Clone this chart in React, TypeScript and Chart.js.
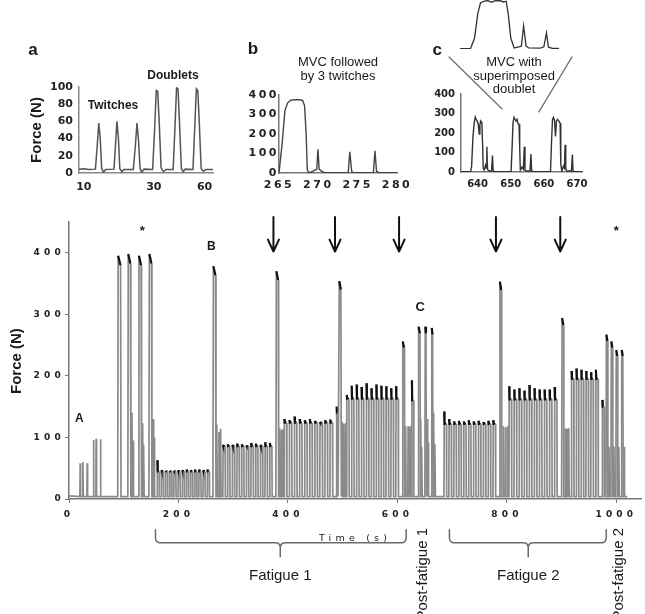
import { useEffect, useRef } from 'react';
import { Chart, registerables } from 'chart.js';

Chart.register(...registerables);

const SANS = '"Liberation Sans", Arial, sans-serif';
const DEJAVU = '"DejaVu Sans", sans-serif';

// ---------------- main recording (time in s, force in N) ----------------
const mainXTicks = [0, 200, 400, 600, 800, 1000];
const mainYTicks = [0, 100, 200, 300, 400];
const BASELINE_N = 4;

// single twitches and doublets
const twitchTimes = [20.4, 25.3, 33.2, 44.7, 49.6, 57.5, 115, 117.5, 134.5, 136.5, 153.5, 155.5, 270, 274, 277, 385, 388, 391, 499, 502, 505, 615, 619.5, 623, 642.8, 644.5, 654.1, 656.1, 666.4, 668.6, 794, 797.5, 801, 907, 910, 913, 986.5, 995.5, 1004.5, 1014.5];
const twitchForces = [58, 60, 58, 96, 98, 97, 140, 95, 123, 88, 130, 100, 121, 109, 114, 115, 112, 114, 125, 122, 124, 118, 118, 118, 130, 85, 130, 92, 140, 89, 118, 116, 118, 115, 114, 115, 85, 85, 85, 85];

// maximal voluntary contractions
const mvcOnsets = [89, 107.5, 127, 146, 263, 378, 493, 609, 637.9, 650.1, 662, 786.5, 900, 981, 990, 999, 1009];
const mvcOffsets = [95, 113, 132.5, 151.5, 268.5, 383, 497.5, 613, 642, 652.9, 665, 790.5, 904, 984.5, 993.5, 1002.5, 1012.5];
const mvcPeaks = [395, 398, 395, 398, 378, 370, 354, 256, 280, 280, 278, 353, 294, 267, 256, 242, 242];

// isolated submaximal contractions
const barOnsets = [488.5, 626, 974];
const barOffsets = [491.5, 630, 978];
const barPeaks = [150, 193, 161];
const barHolds = [140, 160, 150];

// intermittent fatiguing blocks
const blockStarts = [161, 281, 393, 507, 685, 803.7, 917.7];
const blockEnds = [260, 375, 486, 606, 783.5, 896, 971];
const blockHolds = [45, 86, 124, 163, 122, 162, 195];
const block1Peaks = [63, 47, 46, 46, 46, 47, 47, 48, 47, 48, 48, 47, 48];
const block2Peaks = [88, 89, 88, 90, 89, 87, 91, 90, 88, 92, 91];
const block3Peaks = [130, 128, 134, 130, 128, 130, 127, 125, 128, 129];
const block4Peaks = [169, 184, 186, 182, 188, 180, 186, 184, 183, 180, 183];
const block5Peaks = [142, 130, 126, 127, 126, 128, 126, 127, 125, 127, 128];
const block6Peaks = [183, 178, 180, 176, 185, 180, 178, 178, 178, 182];
const block7Peaks = [208, 212, 210, 208, 206, 210];
const blockPeaks = [block1Peaks, block2Peaks, block3Peaks, block4Peaks, block5Peaks, block6Peaks, block7Peaks];

// ---------------- inset a ----------------
const aTime = [8, 10, 12, 14.8, 15.5, 16.2, 16.8, 17.4, 18.2, 19, 22.5, 23.1, 23.7, 24.3, 24.9, 25.8, 26.6, 30.5, 31.3, 32.0, 32.6, 33.3, 34, 35, 38.5, 39.3, 40.0, 40.6, 41.2, 42, 43, 44, 47, 47.7, 48.4, 49.0, 49.6, 50.4, 51.2, 52, 55.2, 55.9, 56.6, 57.2, 57.8, 58.6, 59.5, 60.5, 63.5];
const aForce = [4.5, 5, 4, 4.5, 30, 58, 40, 5, 1, 4, 4.5, 32, 60, 42, 5, 1.5, 4, 4, 30, 58, 40, 5, 1, 4.5, 4, 50, 96, 95, 60, 6, 1.5, 4, 4, 50, 99, 98, 60, 5, 1.5, 4.5, 4, 50, 98, 96, 60, 5, 2, 4, 4];
const aTickValues = [10, 39, 60];
const aTickLabels = ['10', '30', '60'];
const aYTicks = [0, 20, 40, 60, 80, 100];

// ---------------- inset b ----------------
const bTime = [265, 265.4, 265.75, 266.1, 266.5, 267.0, 267.6, 268.0, 268.25, 268.45, 268.6, 268.8, 269.3, 269.6, 269.8, 269.95, 270.1, 270.4, 270.8, 273.8, 274.0, 274.25, 274.5, 277.0, 277.2, 277.4, 277.7, 280];
const bForce = [0, 150, 320, 360, 373, 376, 376, 372, 345, 200, 15, 2, 8, 16, 18, 121, 20, 10, 2, 2, 109, 5, 2, 2, 114, 8, 3, 2];
const bXTicks = [265, 270, 275, 280];
const bcYTicks = [0, 100, 200, 300, 400];

// ---------------- inset c ----------------
const cTime = [635, 637.9, 638.2, 638.6, 639.0, 639.3, 639.6, 639.9, 640.2, 640.5, 640.7, 640.9, 641.1, 641.3, 641.5, 641.7, 642.0, 642.4, 642.6, 642.8, 643.0, 643.4, 644.2, 644.5, 644.7, 645.2, 650.1, 650.4, 650.7, 651.0, 651.3, 651.6, 651.9, 652.2, 652.5, 652.7, 652.9, 653.4, 653.8, 654.1, 654.3, 654.8, 655.8, 656.1, 656.3, 657, 662.0, 662.3, 662.6, 662.9, 663.2, 663.5, 663.8, 664.1, 664.5, 664.9, 665.1, 665.4, 665.9, 666.2, 666.4, 666.6, 667, 668.3, 668.6, 668.8, 669.3, 671.5];
const cForce = [2, 2, 30, 180, 255, 282, 268, 260, 245, 195, 240, 262, 258, 248, 150, 20, 10, 35, 20, 130, 15, 5, 5, 85, 5, 2, 2, 120, 255, 280, 270, 262, 270, 248, 245, 130, 10, 25, 15, 130, 10, 5, 5, 92, 5, 2, 2, 150, 270, 280, 265, 182, 262, 270, 262, 250, 40, 5, 30, 20, 140, 15, 5, 5, 89, 5, 2, 2];
const cXTicks = [640, 650, 660, 670];

// magnified MVC with superimposed doublet (above inset c)
const zoomTime = [637.9, 638.7, 639.0, 639.25, 639.45, 639.7, 640.0, 640.3, 640.5, 640.9, 641.2, 641.4, 641.55, 641.75, 642.0, 642.35, 642.55, 642.72, 642.9, 643.1, 644.0, 644.25, 644.45, 644.6, 644.9, 645.4];
const zoomForce = [2, 3, 60, 200, 258, 268, 272, 262, 270, 272, 264, 268, 200, 60, 6, 12, 16, 130, 18, 6, 5, 12, 90, 10, 4, 4];

// ---------------- helpers ----------------
type P = { x: number; y: number };
const zip = (xs: number[], ys: number[]): P[] => xs.map((x, i) => ({ x, y: ys[i] }));

function buildMainTrace(): P[] {
  const ev: { t: number; pts: [number, number][] }[] = [];
  const B = BASELINE_N;
  twitchTimes.forEach((t, i) => ev.push({ t: t - 0.5, pts: [[t - 0.5, B], [t, twitchForces[i]], [t + 0.8, B]] }));
  mvcOnsets.forEach((a, i) => {
    const b = mvcOffsets[i], f = mvcPeaks[i];
    ev.push({ t: a, pts: [[a, B], [a + 0.8, f], [b - 0.8, f * 0.96], [b, B]] });
  });
  barOnsets.forEach((a, i) => {
    const b = barOffsets[i];
    ev.push({ t: a, pts: [[a, B], [a + 0.5, barPeaks[i]], [a + 1, barHolds[i]], [b - 0.5, barHolds[i]], [b, B]] });
  });
  blockStarts.forEach((s0, k) => {
    const peaks = blockPeaks[k];
    const per = (blockEnds[k] - s0) / peaks.length;
    const on = per * 0.55;
    peaks.forEach((f, i) => {
      const s = s0 + i * per;
      const h = Math.min(blockHolds[k], f);
      ev.push({ t: s, pts: [[s, B], [s + 0.5, f], [s + 1.1, h], [s + on - 0.5, h], [s + on, B]] });
    });
  });
  ev.sort((p, q) => p.t - q.t);
  const out: P[] = [{ x: 0, y: 5 }];
  ev.forEach((e) => e.pts.forEach(([x, y]) => out.push({ x, y })));
  out.push({ x: 1020, y: B });
  return out;
}

type Txt = { x: number; y: number; text: string; font: string; align?: CanvasTextAlign; rot?: number };
type Seg = { x0: number; y0: number; x1: number; y1: number };
type Brace = { x0: number; x1: number; xm: number; yTop: number; yMid: number; yTip: number };
type Annot = { spacing?: string; texts?: Txt[]; lines?: Seg[]; arrowXs?: number[]; arrowTop?: number; arrowBot?: number; braces?: Brace[] };

function annotPlugin(a: Annot) {
  return {
    id: 'annot',
    beforeDraw(chart: any) {
      chart.ctx.letterSpacing = a.spacing || '0px';
    },
    afterDraw(chart: any) {
      const ctx = chart.ctx as CanvasRenderingContext2D;
      const xs = chart.scales.x, ys = chart.scales.y;
      const px = (v: number) => xs.getPixelForValue(v);
      const py = (v: number) => ys.getPixelForValue(v);
      ctx.save();
      (ctx as any).letterSpacing = '0px';
      ctx.lineCap = 'round';
      ctx.lineJoin = 'round';
      for (const l of a.lines || []) {
        ctx.strokeStyle = '#707070';
        ctx.lineWidth = 1.3;
        ctx.beginPath();
        ctx.moveTo(px(l.x0), py(l.y0));
        ctx.lineTo(px(l.x1), py(l.y1));
        ctx.stroke();
      }
      for (const x of a.arrowXs || []) {
        const X = px(x), T = py(a.arrowTop as number), Bt = py(a.arrowBot as number);
        ctx.strokeStyle = '#111';
        ctx.lineWidth = 2;
        ctx.beginPath();
        ctx.moveTo(X, T);
        ctx.lineTo(X, Bt);
        ctx.moveTo(X - 5.5, Bt - 12);
        ctx.lineTo(X, Bt);
        ctx.lineTo(X + 5.5, Bt - 12);
        ctx.stroke();
      }
      for (const b of a.braces || []) {
        const X0 = px(b.x0), X1 = px(b.x1), XM = px(b.xm), YT = py(b.yTop), YM = py(b.yMid), YP = py(b.yTip), r = 5;
        ctx.strokeStyle = '#6a6a6a';
        ctx.lineWidth = 1.5;
        ctx.beginPath();
        ctx.moveTo(X0, YT);
        ctx.lineTo(X0, YM - r);
        ctx.quadraticCurveTo(X0, YM, X0 + r, YM);
        ctx.lineTo(XM - r, YM);
        ctx.quadraticCurveTo(XM, YM, XM, YM + r);
        ctx.lineTo(XM, YP);
        ctx.moveTo(X1, YT);
        ctx.lineTo(X1, YM - r);
        ctx.quadraticCurveTo(X1, YM, X1 - r, YM);
        ctx.lineTo(XM + r, YM);
        ctx.quadraticCurveTo(XM, YM, XM, YM + r);
        ctx.stroke();
      }
      for (const t of a.texts || []) {
        ctx.save();
        ctx.translate(px(t.x), py(t.y));
        if (t.rot) ctx.rotate(t.rot);
        ctx.font = t.font;
        ctx.fillStyle = '#1a1a1a';
        ctx.textAlign = t.align || 'center';
        ctx.textBaseline = 'middle';
        ctx.fillText(t.text, 0, 0);
        ctx.restore();
      }
      ctx.restore();
    },
  };
}

type Opts = {
  pts: P[]; color: string; lineWidth: number; segment?: any;
  xMin: number; xMax: number; yMin: number; yMax: number;
  xTicks: number[]; yTicks: number[]; xLabel?: (v: number, i: number) => string;
  pad: { left: number; right: number; top: number; bottom: number };
  yWidth: number; xHeight: number; showAxes: boolean;
  font?: any; xPad?: number; yPad?: number; marks?: boolean; axisColor?: string; axisWidth?: number;
  xTitle?: any; yTitle?: any; annot: Annot;
};

function makeChart(canvas: HTMLCanvasElement, o: Opts) {
  const axisColor = o.axisColor || '#888';
  return new Chart(canvas as any, {
    type: 'line',
    data: {
      datasets: [{
        data: o.pts as any,
        borderColor: o.color,
        borderWidth: o.lineWidth,
        pointRadius: 0,
        tension: 0,
        fill: false,
        segment: o.segment,
      }],
    },
    options: {
      animation: false,
      responsive: false,
      devicePixelRatio: 1,
      events: [],
      layout: { padding: o.pad },
      plugins: { legend: { display: false }, tooltip: { enabled: false }, title: { display: false } },
      scales: {
        x: {
          type: 'linear', display: o.showAxes, min: o.xMin, max: o.xMax,
          afterBuildTicks: (s: any) => { s.ticks = o.xTicks.map((v) => ({ value: v })); },
          afterFit: (s: any) => { s.height = o.xHeight; },
          ticks: {
            font: o.font, color: '#222', padding: o.xPad || 0, maxRotation: 0, minRotation: 0, autoSkip: false,
            callback: (v: any, i: number) => (o.xLabel ? o.xLabel(v, i) : String(v)),
          },
          grid: { display: !!o.marks, drawOnChartArea: false, drawTicks: !!o.marks, tickLength: 4, color: axisColor, lineWidth: 1 },
          border: { display: true, color: axisColor, width: o.axisWidth || 1.4 },
          title: o.xTitle || { display: false },
        },
        y: {
          type: 'linear', display: o.showAxes, min: o.yMin, max: o.yMax,
          afterBuildTicks: (s: any) => { s.ticks = o.yTicks.map((v) => ({ value: v })); },
          afterFit: (s: any) => { s.width = o.yWidth; },
          ticks: { font: o.font, color: '#222', padding: o.yPad || 0, autoSkip: false, callback: (v: any) => String(v) },
          grid: { display: !!o.marks, drawOnChartArea: false, drawTicks: !!o.marks, tickLength: 4, color: axisColor, lineWidth: 1 },
          border: { display: true, color: axisColor, width: o.axisWidth || 1.4 },
          title: o.yTitle || { display: false },
        },
      },
    } as any,
    plugins: [annotPlugin(o.annot) as any],
  });
}

const isCap = (c: any) => {
  const a = c.p0.parsed.y, b = c.p1.parsed.y;
  return a > 20 && b > 20 && Math.abs(a - b) < 0.3 * Math.max(a, b);
};
const capColor = (c: any) => (isCap(c) ? '#111' : '#8a8a8a');
const capWidth = (c: any) => (isCap(c) ? 2.2 : 1.7);

export default function App() {
  const mainRef = useRef<HTMLCanvasElement>(null);
  const aRef = useRef<HTMLCanvasElement>(null);
  const bRef = useRef<HTMLCanvasElement>(null);
  const cRef = useRef<HTMLCanvasElement>(null);
  const zRef = useRef<HTMLCanvasElement>(null);

  useEffect(() => {
    const charts: Chart[] = [];
    const tickBold = (size: number) => ({ family: DEJAVU, size, weight: 'bold' });

    charts.push(makeChart(mainRef.current as HTMLCanvasElement, {
      pts: buildMainTrace(), color: '#8a8a8a', lineWidth: 1.7,
      segment: { borderColor: capColor, borderWidth: capWidth },
      xMin: 0, xMax: 1045, yMin: 0, yMax: 450, xTicks: mainXTicks, yTicks: mainYTicks,
      pad: { left: 0, right: 4, top: 22, bottom: 0 }, yWidth: 69, xHeight: 115, showAxes: true,
      font: tickBold(9), xPad: 6, yPad: 0, marks: true, axisColor: '#777', axisWidth: 1.5,
      xTitle: { display: true, text: 'Time (s)', font: { family: DEJAVU, size: 9.5 }, color: '#222', padding: { top: 0, bottom: 70 } },
      annot: {
        spacing: '4.2px',
        arrowXs: [373.5, 486, 603, 780, 897.5], arrowTop: 458, arrowBot: 402,
        braces: [
          { x0: 158, x1: 616, xm: 386, yTop: -50, yMid: -71, yTip: -94 },
          { x0: 695, x1: 981.5, xm: 839, yTop: -50, yMid: -71, yTip: -94 },
        ],
        texts: [
          { x: -94.4, y: 224, text: 'Force (N)', font: `bold 15px ${SANS}`, rot: -Math.PI / 2 },
          { x: 19, y: 130, text: 'A', font: `bold 12px ${SANS}` },
          { x: 134, y: 434, text: '*', font: `bold 13px ${SANS}` },
          { x: 260, y: 410, text: 'B', font: `bold 12px ${SANS}` },
          { x: 641.6, y: 312, text: 'C', font: `bold 13px ${SANS}` },
          { x: 1000, y: 434, text: '*', font: `bold 13px ${SANS}` },
          { x: 386, y: -125, text: 'Fatigue 1', font: `15px ${SANS}` },
          { x: 839, y: -125, text: 'Fatigue 2', font: `15px ${SANS}` },
          { x: 647, y: -47, text: 'Post-fatigue 1', font: `15px ${SANS}`, align: 'right', rot: -Math.PI / 2 },
          { x: 1005, y: -47, text: 'Post-fatigue 2', font: `15px ${SANS}`, align: 'right', rot: -Math.PI / 2 },
        ],
      },
    }));

    charts.push(makeChart(aRef.current as HTMLCanvasElement, {
      pts: zip(aTime, aForce), color: '#555', lineWidth: 1.5,
      xMin: 8, xMax: 63.5, yMin: 0, yMax: 100, xTicks: aTickValues, yTicks: aYTicks,
      xLabel: (_v, i) => aTickLabels[i],
      pad: { left: 0, right: 27, top: 67, bottom: 0 }, yWidth: 79, xHeight: 37, showAxes: true,
      font: tickBold(11), xPad: 8, yPad: 6, marks: false, axisColor: '#888', axisWidth: 1.5,
      yTitle: { display: true, text: 'Force (N)', font: { family: SANS, size: 15, weight: 'bold' }, color: '#1a1a1a', padding: { top: 28, bottom: 0 } },
      annot: {
        texts: [
          { x: -11.1, y: 143, text: 'a', font: `bold 17px ${SANS}` },
          { x: 22.1, y: 78, text: 'Twitches', font: `bold 12px ${SANS}` },
          { x: 46.9, y: 112.8, text: 'Doublets', font: `bold 12px ${SANS}` },
        ],
      },
    }));

    charts.push(makeChart(bRef.current as HTMLCanvasElement, {
      pts: zip(bTime, bForce), color: '#444', lineWidth: 1.4,
      xMin: 265, xMax: 280, yMin: 0, yMax: 400, xTicks: bXTicks, yTicks: bcYTicks,
      pad: { left: 0, right: 33, top: 75, bottom: 0 }, yWidth: 79, xHeight: 37, showAxes: true,
      font: tickBold(11), xPad: 6, yPad: 0, marks: false, axisColor: '#777', axisWidth: 1.5,
      annot: {
        spacing: '2.5px',
        texts: [
          { x: 261.7, y: 636, text: 'b', font: `bold 17px ${SANS}` },
          { x: 272.5, y: 569, text: 'MVC followed', font: `13px ${SANS}` },
          { x: 272.5, y: 497, text: 'by 3 twitches', font: `13px ${SANS}` },
        ],
      },
    }));

    charts.push(makeChart(cRef.current as HTMLCanvasElement, {
      pts: zip(cTime, cForce), color: '#333', lineWidth: 1.4,
      xMin: 635, xMax: 671.5, yMin: 0, yMax: 400, xTicks: cXTicks, yTicks: bcYTicks,
      pad: { left: 0, right: 63, top: 94, bottom: 0 }, yWidth: 51, xHeight: 38, showAxes: true,
      font: tickBold(10), xPad: 6, yPad: 6, marks: false, axisColor: '#777', axisWidth: 1.5,
      annot: {
        lines: [
          { x0: 631.4, y0: 590, x1: 647.4, y1: 323 },
          { x0: 668.5, y0: 590, x1: 658.5, y1: 308 },
        ],
        texts: [
          { x: 627.8, y: 626, text: 'c', font: `bold 17px ${SANS}` },
          { x: 651, y: 564, text: 'MVC with', font: `13px ${SANS}` },
          { x: 651, y: 492, text: 'superimposed', font: `13px ${SANS}` },
          { x: 651, y: 426, text: 'doublet', font: `13px ${SANS}` },
        ],
      },
    }));

    charts.push(makeChart(zRef.current as HTMLCanvasElement, {
      pts: zip(zoomTime, zoomForce), color: '#333', lineWidth: 1.3,
      xMin: 637.9, xMax: 645.4, yMin: 0, yMax: 275, xTicks: [], yTicks: [],
      pad: { left: 10, right: 11, top: 0, bottom: 11 }, yWidth: 0, xHeight: 0, showAxes: false,
      annot: {},
    }));

    return () => charts.forEach((c) => c.destroy());
  }, []);

  const cv = (ref: any, l: number, t: number, w: number, h: number) => (
    <canvas ref={ref} width={w} height={h} style={{ position: 'absolute', left: l, top: t, width: w, height: h }} />
  );

  return (
    <div style={{ position: 'fixed', left: 0, top: 0, width: 645, height: 614, background: '#fff', overflow: 'hidden' }}>
      {cv(mainRef, 0, 200, 645, 414)}
      {cv(aRef, 0, 20, 240, 190)}
      {cv(bRef, 200, 20, 230, 190)}
      {cv(cRef, 410, 0, 235, 210)}
      {cv(zRef, 450, 0, 120, 60)}
    </div>
  );
}
